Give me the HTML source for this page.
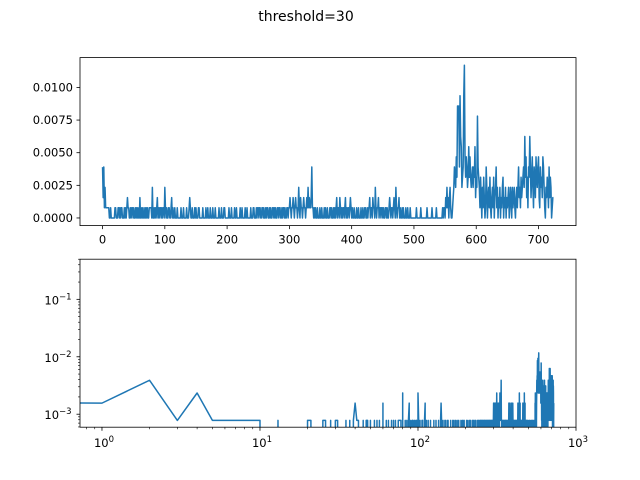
<!DOCTYPE html>
<html><head><meta charset="utf-8"><style>
html,body{margin:0;padding:0;background:#fff;overflow:hidden;width:640px;height:480px;}
svg{display:block;}
svg text{font-family:"DejaVu Sans","Liberation Sans",sans-serif;fill:#000;}
</style></head><body>
<svg id="fig" width="640" height="480" viewBox="0 0 640 480" xmlns="http://www.w3.org/2000/svg">
<rect width="640" height="480" fill="#fff"/>
<text x="306" y="21" font-size="14" text-anchor="middle">threshold=30</text>
<defs>
<clipPath id="c1"><rect x="80" y="57.6" width="496" height="168"/></clipPath>
<clipPath id="c2"><rect x="80" y="259.2" width="496" height="168"/></clipPath>
</defs>
<g id="topAxes"></g>
<g id="botAxes"></g>
</svg>
<script>
const counts = [
5,2,5,1,3,1,1,1,1,1,1,0,0,1,0,0,0,0,0,0,1,1,0,0,0,
1,1,0,1,0,1,1,0,0,0,1,0,1,0,1,2,1,1,0,0,1,0,1,1,0,
1,0,0,1,0,1,0,1,0,0,2,0,0,1,0,1,0,0,1,0,1,0,1,0,0,
1,1,1,1,0,3,0,0,1,0,1,0,1,2,0,1,0,1,1,0,1,0,1,1,0,
3,1,0,1,0,0,1,1,0,0,1,2,0,1,0,0,1,0,0,0,1,0,0,0,0,
0,1,0,0,0,1,0,0,0,0,1,0,0,0,1,2,1,0,0,1,0,0,0,1,0,
1,0,0,0,1,1,0,0,0,0,0,1,0,0,0,0,1,0,0,1,0,0,0,1,0,
0,0,1,0,0,0,1,0,0,0,0,0,1,0,0,0,1,0,0,0,1,1,0,0,0,
0,0,0,1,0,0,0,1,0,0,0,0,1,0,0,1,0,0,0,0,0,1,0,0,1,
0,0,0,0,1,0,0,1,0,0,0,0,0,1,0,0,0,1,1,0,0,0,1,0,1,
1,0,1,1,0,0,1,1,0,1,0,0,1,0,1,1,0,0,1,0,1,0,0,1,1,
0,1,0,1,0,0,1,1,0,1,1,0,0,1,0,1,1,0,1,0,0,1,1,0,1,
1,2,1,0,1,1,2,1,0,1,2,1,1,0,1,3,1,0,2,1,1,0,1,2,1,
1,0,1,2,1,3,1,2,1,1,2,5,1,1,0,1,0,1,0,0,1,0,0,0,1,
0,0,1,0,0,0,1,0,1,0,0,1,0,0,0,1,1,0,1,0,0,1,0,1,0,
1,2,0,1,1,0,2,1,0,1,0,1,1,0,1,2,0,1,0,1,1,0,1,2,1,
0,1,0,0,1,0,0,0,1,0,0,1,0,0,0,1,0,0,1,0,0,1,1,0,0,
1,0,1,1,2,0,1,1,0,2,1,1,0,3,1,0,1,1,2,0,1,1,0,1,1,
0,1,0,0,1,1,0,1,0,0,1,2,1,0,1,1,0,1,2,1,0,3,1,0,1,
1,2,0,1,0,0,1,0,1,0,0,0,1,0,0,1,0,0,0,1,0,0,0,0,0,
0,0,0,0,1,0,0,0,0,0,0,1,0,0,0,0,0,0,0,0,0,1,0,0,0,
0,0,0,0,1,0,0,0,0,0,0,1,0,0,0,0,0,0,0,0,0,1,0,1,1,
0,2,1,3,1,2,0,2,3,1,0,0,1,2,3,5,4,3,6,4,11,10,11,5,12,
8,7,3,4,5,12,15,6,4,6,5,3,4,7,4,6,4,3,4,5,3,5,4,7,2,
4,3,10,5,4,3,1,4,2,0,3,1,4,2,0,1,5,3,0,2,3,1,4,1,0,
2,3,1,4,0,2,3,5,1,3,0,2,1,3,0,2,1,3,4,0,2,1,3,0,2,
1,2,3,0,1,3,2,0,3,1,2,3,1,0,2,3,1,3,5,2,3,1,4,2,3,
4,5,3,8,4,6,2,4,1,5,4,8,5,2,4,6,3,1,5,4,2,6,4,3,5,
6,2,1,5,3,4,2,6,5,3,1,0,3,2,4,3,1,5,2,4,3,0,1,2,2];
const total = 1282;
const topXTicks = [0,100,200,300,400,500,600,700];
const topYTicks = [0,0.0025,0.005,0.0075,0.01];
const topYLabels = ["0.0000","0.0025","0.0050","0.0075","0.0100"];
const logXExps = [0,1,2,3];
const logYExps = [-3,-2,-1];

const NS="http://www.w3.org/2000/svg";
function mk(tag,attrs,parent){const e=document.createElementNS(NS,tag);for(const k in attrs)e.setAttribute(k,attrs[k]);parent.appendChild(e);return e;}
const vals = counts.map(c=>c/total);
const n = vals.length;
const L=80,R=576;
const T1=57.6,B1=225.6;
const xmin=-(n-1)*0.05, xmax=(n-1)*1.05;
const vmax=Math.max(...vals);
const ymin=-vmax*0.05, ymax=vmax*1.05;
const xs1=v=>L+(v-xmin)/(xmax-xmin)*(R-L);
const ys1=v=>B1-(v-ymin)/(ymax-ymin)*(B1-T1);
const gTop=document.getElementById('topAxes');
let d='';
vals.forEach((v,i)=>{d+=(i?'L':'M')+xs1(i).toFixed(2)+' '+ys1(v).toFixed(2);});
const l1=mk('path',{d:d,fill:'none',stroke:'#1f77b4','stroke-width':1.5,'stroke-linejoin':'round','clip-path':'url(#c1)'},gTop);


const f1=mk('rect',{x:L,y:T1,width:R-L,height:B1-T1,fill:'none',stroke:'#000','stroke-width':0.8},gTop);


topXTicks.forEach(t=>{const x=xs1(t);
  mk('line',{x1:x,x2:x,y1:B1,y2:B1+3.5,stroke:'#000','stroke-width':0.8},gTop);
  const tx=mk('text',{x:x,y:B1+18,'font-size':11.5,'text-anchor':'middle'},gTop);tx.textContent=t;
  
  });
topYTicks.forEach((t,i)=>{const y=ys1(t);
  mk('line',{x1:L-3.5,x2:L,y1:y,y2:y,stroke:'#000','stroke-width':0.8},gTop);
  const tx=mk('text',{x:L-7,y:y+4,'font-size':11.5,'text-anchor':'end'},gTop);tx.textContent=topYLabels[i];
  
  });
const T2=259.2,B2=427.2;
const lx0=Math.log10(0.726), lx1=3;
const ly0=Math.log10(0.000594), ly1=Math.log10(0.5);
const xs2=v=>L+(Math.log10(Math.max(v,1e-30))-lx0)/(lx1-lx0)*(R-L);
const ys2=v=>B2-(Math.log10(Math.max(v,1e-30))-ly0)/(ly1-ly0)*(B2-T2);
const gBot=document.getElementById('botAxes');
d='';
vals.forEach((v,i)=>{d+=(i?'L':'M')+xs2(i).toFixed(2)+' '+ys2(v).toFixed(2);});
const l2=mk('path',{d:d,fill:'none',stroke:'#1f77b4','stroke-width':1.5,'stroke-linejoin':'round','clip-path':'url(#c2)'},gBot);


const f2=mk('rect',{x:L,y:T2,width:R-L,height:B2-T2,fill:'none',stroke:'#000','stroke-width':0.8},gBot);


function sup(x,y,anchor,e,name){
  const tx=mk('text',{x:x,y:y,'font-size':11.5,'text-anchor':anchor},gBot);
  
  
  const a=mk('tspan',{},tx);a.textContent='10';
  const b=mk('tspan',{dy:-5,'font-size':8.5},tx);b.textContent=String(e).replace('-','\u2212');
}
for(let e=-1;e<=3;e++){for(let m=1;m<10;m++){const v=m*Math.pow(10,e);const x=xs2(v);
  if(x<L-0.1||x>R+0.1)continue;
  mk('line',{x1:x,x2:x,y1:B2,y2:B2+(m===1?3.5:2),stroke:'#000','stroke-width':m===1?0.8:0.6},gBot);}}
logXExps.forEach(e=>sup(xs2(Math.pow(10,e))+2,B2+20,'middle',e,'x-tick-label-log'));
for(let e=-4;e<=0;e++){for(let m=1;m<10;m++){const v=m*Math.pow(10,e);const y=ys2(v);
  if(y>B2+0.1||y<T2-0.1)continue;
  mk('line',{x1:L-(m===1?3.5:2),x2:L,y1:y,y2:y,stroke:'#000','stroke-width':m===1?0.8:0.6},gBot);}}
logYExps.forEach(e=>sup(L-22,ys2(Math.pow(10,e))+5,'middle',e,'y-tick-label-log'));
</script>
</body></html>
